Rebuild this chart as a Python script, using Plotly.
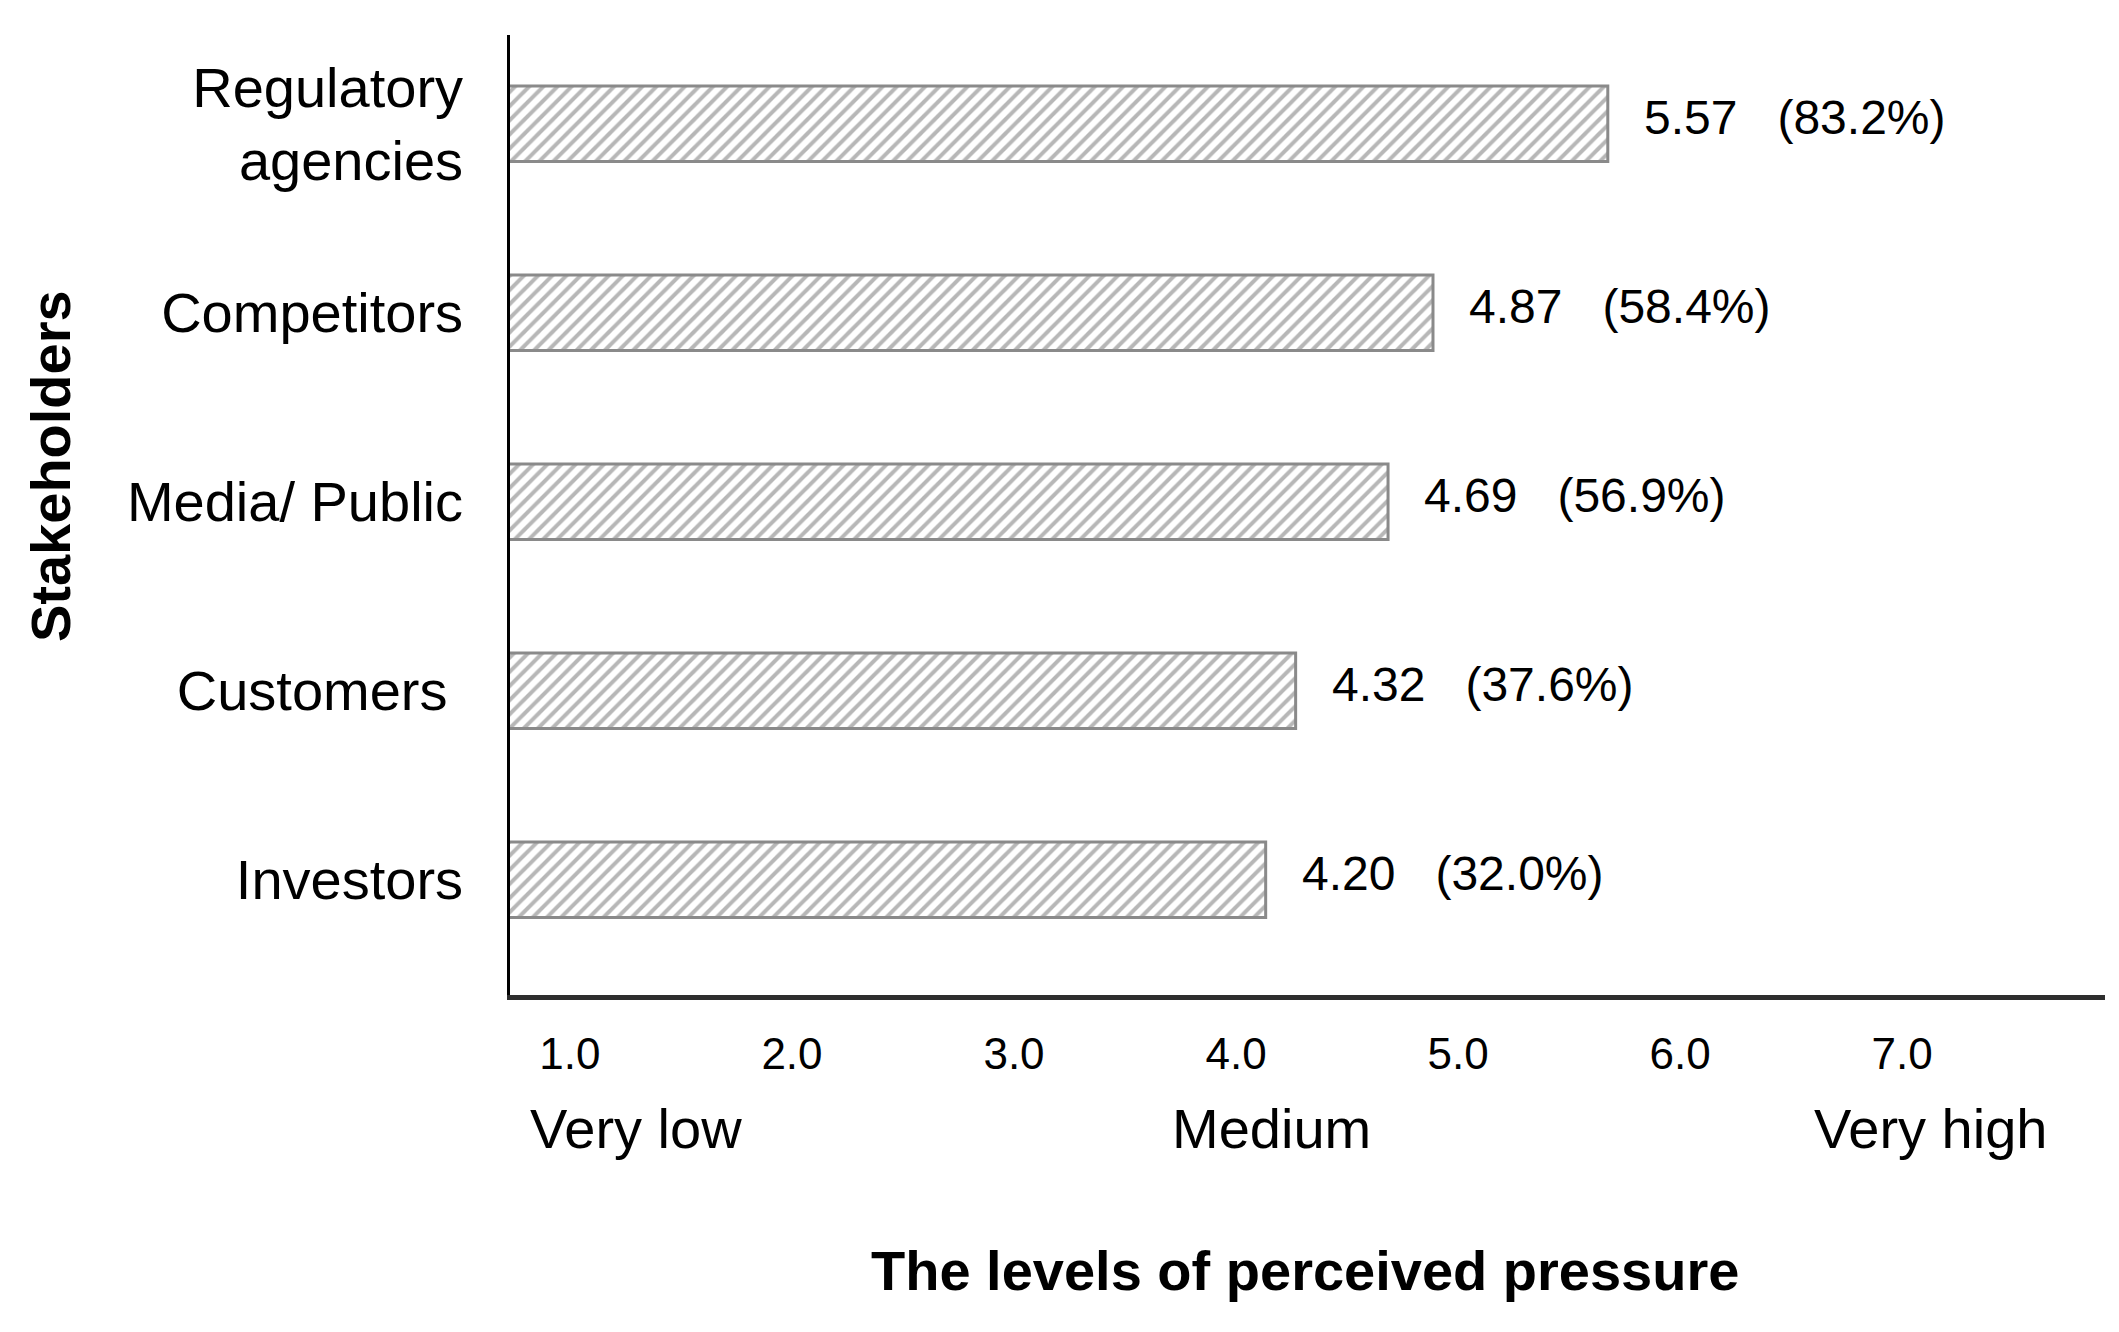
import plotly.graph_objects as go

# ---- data ----
stakeholders = ["Investors", "Customers\u00a0", "Media/ Public", "Competitors", "Regulatory<br>agencies"]
mean_scores = [4.20, 4.32, 4.69, 4.87, 5.57]
pct_high = ["32.0%", "37.6%", "56.9%", "58.4%", "83.2%"]
tick_values = [1, 2, 3, 4, 5, 6, 7]
tick_labels = ["1.0", "2.0", "3.0", "4.0", "5.0", "6.0", "7.0"]
scale_words = ["Very low", "Medium", "Very high"]

FONT = "Liberation Sans, Arial, sans-serif"

fig = go.Figure()
fig.add_trace(go.Bar(
    y=stakeholders,
    x=mean_scores,
    orientation="h",
    width=0.4,
    marker=dict(
        color="white",
        line=dict(color="#8a8a8a", width=3),
        pattern=dict(shape="/", fgcolor="#707070", bgcolor="white", size=10, solidity=0.4),
    ),
    hoverinfo="skip",
    showlegend=False,
))

# invisible helper trace so the tick axis (x2) is drawn
fig.add_trace(go.Scatter(
    x=tick_values, y=[stakeholders[0]] * len(tick_values),
    xaxis="x2", yaxis="y", mode="markers",
    marker=dict(opacity=0), hoverinfo="skip", showlegend=False,
))

# value labels next to bars
for cat, v, p in zip(stakeholders, mean_scores, pct_high):
    fig.add_annotation(
        x=v, y=cat, xref="x", yref="y",
        text=f"{v:.2f}\u00a0\u00a0\u00a0({p})",
        showarrow=False, xanchor="left", yanchor="middle",
        xshift=34, yshift=6,
        font=dict(family=FONT, size=48, color="black"),
    )

# scale words under tick numbers
for word, px in zip(scale_words, [0.079, 0.4777, 0.891]):
    fig.add_annotation(
        x=px, y=-0.139, xref="paper", yref="paper",
        text=word, showarrow=False, xanchor="center", yanchor="middle",
        font=dict(family=FONT, size=56, color="black"),
    )

# axis titles
fig.add_annotation(
    x=-0.2884, y=0.551, xref="paper", yref="paper",
    text="<b>Stakeholders</b>", textangle=-90, showarrow=False,
    xanchor="center", yanchor="middle",
    font=dict(family=FONT, size=56, color="black"),
)
fig.add_annotation(
    x=0.4984, y=-0.2865, xref="paper", yref="paper",
    text="<b>The levels of perceived pressure</b>", showarrow=False,
    xanchor="center", yanchor="middle",
    font=dict(family=FONT, size=56, color="black"),
)

fig.update_layout(
    width=2103, height=1316,
    margin=dict(l=502, r=6, t=27, b=329),
    paper_bgcolor="white", plot_bgcolor="white",
    font=dict(family=FONT, color="black"),
    xaxis=dict(
        range=[1.174, 7.561], visible=False, showgrid=False, zeroline=False,
    ),
    xaxis2=dict(
        overlaying="x", side="bottom", anchor="y",
        range=[0.730, 7.914],
        tickmode="array", tickvals=tick_values, ticktext=tick_labels,
        ticks="", showgrid=False, zeroline=False,
        showline=True, linecolor="#2e2e2e", linewidth=5,
        tickfont=dict(family=FONT, size=44, color="black"),
        ticklabelstandoff=16,
    ),
    yaxis=dict(
        type="category",
        categoryorder="array", categoryarray=stakeholders,
        range=[-0.61, 4.47],
        showline=True, linecolor="black", linewidth=2.5,
        ticks="", showgrid=False, zeroline=False,
        tickfont=dict(family=FONT, size=56, color="black"),
        ticklabelstandoff=33,
    ),
)

fig.write_html("out.html")
